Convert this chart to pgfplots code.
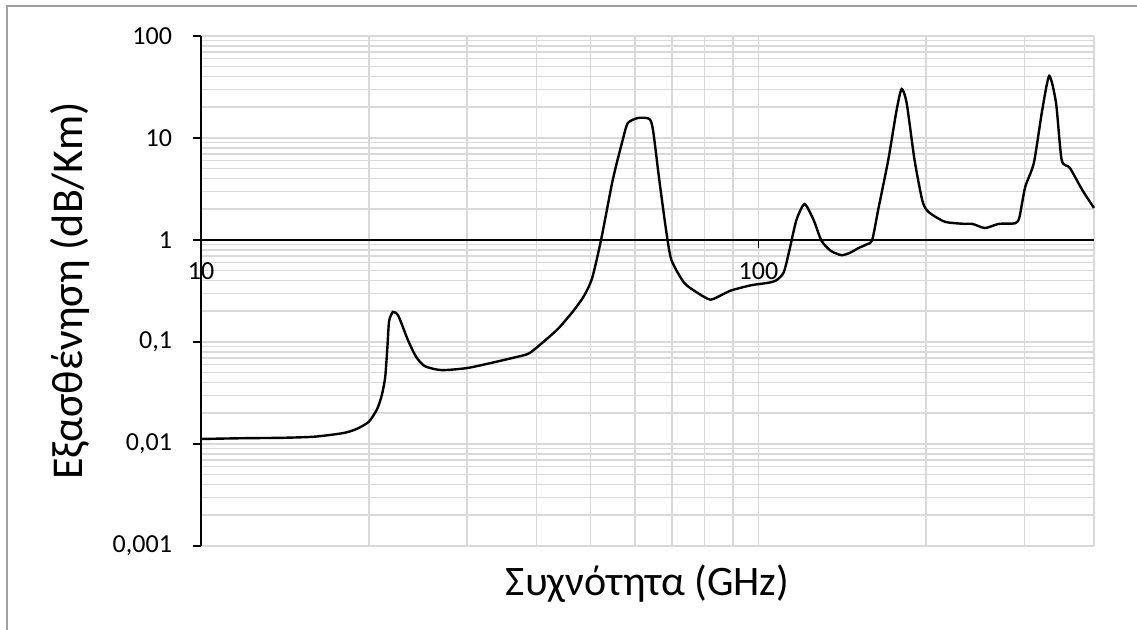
\documentclass[border=0pt]{standalone}
\usepackage{pgfplots}
\pgfplotsset{compat=1.18}
\usepackage{fontspec}
\setmainfont{Carlito}
\definecolor{gridgray}{HTML}{D9D9D9}
\definecolor{framegray}{HTML}{A0A0A0}

\begin{document}
\begin{tikzpicture}
\path[use as bounding box] (0,0) rectangle (568.5pt,315pt);
% chart frame (left and top edges)
\draw[framegray, line width=1pt] (3.5pt,0) -- (3.5pt,312pt) -- (568.5pt,312pt);
\begin{axis}[
  at={(100.5pt,42pt)}, anchor=south west,
  scale only axis, width=446.5pt, height=255pt,
  xmode=log, ymode=log,
  xmin=10, xmax=400, ymin=0.001, ymax=100,
  axis x line=middle, axis y line=left,
  axis line style={-, black, line width=0.9pt},
  hide obscured x ticks=false,
  xtick={10,100}, xticklabels={10,100},
  minor xtick={20,30,40,50,60,70,80,90,200,300,400},
  ytick={0.001,0.01,0.1,1,10,100},
  yticklabels={{0,001},{0,01},{0,1},1,10,100},
  minor ytick={0.002,0.003,0.004,0.005,0.006,0.007,0.008,0.009,
    0.02,0.03,0.04,0.05,0.06,0.07,0.08,0.09,
    0.2,0.3,0.4,0.5,0.6,0.7,0.8,0.9,
    2,3,4,5,6,7,8,9,20,30,40,50,60,70,80,90},
  grid=both,
  major grid style={gridgray, line width=0.8pt},
  minor grid style={gridgray, line width=0.8pt},
  tick align=outside,
  major tick length=4pt, minor tick length=0pt,
  tick style={black, line width=0.9pt},
  /pgf/number format/assume math mode=true,
  tick label style={font=\fontsize{13}{15}\selectfont, text=black},
  yticklabel style={xshift=-7pt},
  xticklabel style={yshift=-4pt},
  xlabel={Συχνότητα (GHz)},
  ylabel={Εξασθένηση (dB/Km)},
  xlabel style={font=\fontsize{21}{25}\selectfont, at={(rel axis cs:0.5,0)}, anchor=north, yshift=-6pt},
  ylabel style={font=\fontsize{22}{26}\selectfont, at={(rel axis cs:0,0.5)}, anchor=south, yshift=52pt},
  clip=false,
]
\addplot[black, line width=1.2pt, smooth, tension=0.4] coordinates {
(10,0.0112) (12,0.0114) (14,0.0115) (16,0.0118) (18,0.0128) (19,0.0140)
(20,0.0165) (20.7,0.022) (21.1,0.03) (21.4,0.045) (21.6,0.09) (21.75,0.16)
(22.1,0.197) (22.6,0.18) (23.5,0.105) (24.3,0.072) (25.2,0.058) (27,0.053)
(30,0.0555) (33,0.062) (35.5,0.068) (38.5,0.076) (40,0.088) (42.5,0.117)
(44,0.14) (46.5,0.2) (48.6,0.28) (50.3,0.42) (52.2,1.0) (54.8,3.9)
(57.1,9.6) (58.3,14) (60.8,15.7) (63.7,15.4) (64.7,12) (66.4,3.9)
(68.3,1.25) (69.8,0.64) (73.6,0.38) (78,0.30) (82,0.26) (86,0.29)
(89.3,0.32) (97,0.36) (104,0.38) (107.5,0.40) (111,0.48) (113.7,0.8)
(117,1.57) (121,2.25) (125.6,1.57) (129.8,0.98) (135,0.78) (141,0.71)
(146,0.75) (151,0.83) (156,0.9) (160,1.0) (164,1.97) (171,6.1)
(177,18.8) (180.7,30.2) (184.5,22) (190.6,6.1) (197,2.4) (202,1.88)
(216,1.51) (234,1.44) (242,1.44) (255,1.31) (270,1.44) (289,1.46)
(294,1.68) (301,3.3) (312,5.7) (323,18.8) (332.5,40.6) (342,22)
(350,6.1) (362,5.1) (381,3.1) (400,2.06)
};
\end{axis}
\end{tikzpicture}
\end{document}
